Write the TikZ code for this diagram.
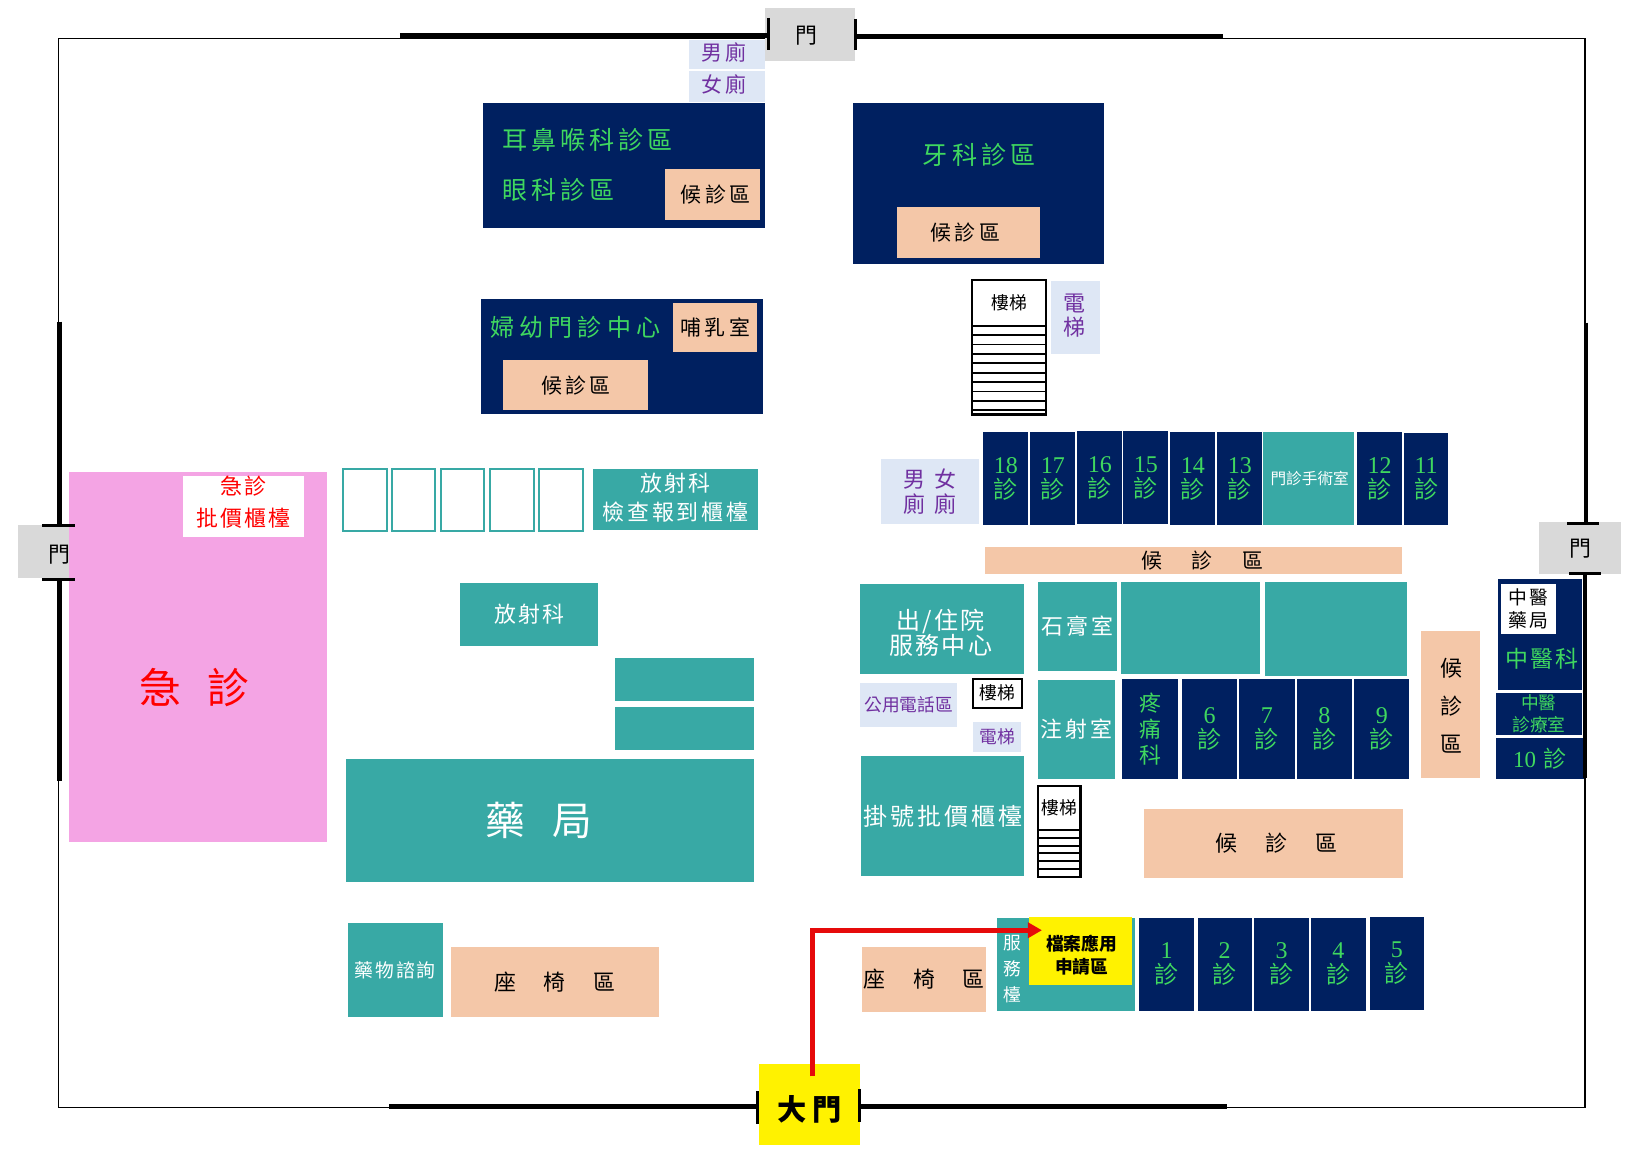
\documentclass[tikz,border=0pt]{standalone}
\usepackage{fontspec}
\setmainfont{Noto Sans CJK TC}
\newfontfamily\ltn{Liberation Serif}
\usetikzlibrary{arrows.meta}
\definecolor{navy}{HTML}{002060}
\definecolor{teal2}{HTML}{38A9A5}
\definecolor{peach}{HTML}{F4C7A8}
\definecolor{paleb}{HTML}{DEE7F5}
\definecolor{purp}{HTML}{7030A0}
\definecolor{grn}{HTML}{3FD85F}
\definecolor{pinkk}{HTML}{F4A4E4}
\definecolor{dgray}{HTML}{D9D9D9}
\makeatletter
\newcommand\LS[2]{\@tfor\@c:=#2\do{\@c\kern#1}\kern-#1\relax}
\makeatother
\newcommand\sz[2]{\fontsize{\the\dimexpr #1pt*522/1000\relax}{\the\dimexpr #2pt*522/1000\relax}\selectfont}
\newcommand\rse[2]{\raisebox{#1}[\height][\depth]{#2}}
% style, name, x0,y0,x1,y1, text
\newcommand\rbox[7]{%
  \pgfmathsetmacro\rw{(#5-#3)*0.522}\pgfmathsetmacro\rh{(#6-#4)*0.522}%
  \node[#1,anchor=north west,minimum width=\rw pt,minimum height=\rh pt] (#2) at (#3,#4) {#7};}
\tikzset{
  base/.style={inner sep=0pt,outer sep=0pt,align=center,text=black},
  navybox/.style={base,fill=navy,text=grn},
  tealbox/.style={base,fill=teal2,text=white},
  peachbox/.style={base,fill=peach},
  palebox/.style={base,fill=paleb,text=purp},
  doorbox/.style={base,fill=dgray,font=\sz{21}{24}},
  stairbox/.style={base,fill=white,draw=black,line width=1.1pt},
  outlinebox/.style={base,fill=white,draw=teal2,line width=1pt},
  clinicbox/.style={navybox,font=\sz{23}{24}},
  wall/.style={draw=black,line width=0.75pt},
  thickwall/.style={draw=black,line width=2.2pt},
  tick/.style={draw=black,line width=1.5pt},
  route/.style={draw={rgb,255:red,230;green,10;blue,10},line width=2.4pt,-{Triangle[length=7pt,width=7.5pt]}},
  tread/.style={draw=black,line width=0.9pt}
}
\begin{document}
\begin{tikzpicture}[x=0.522pt,y=-0.522pt]
\useasboundingbox (0,0) rectangle (1567,1113);
\fill[white] (0,0) rectangle (1567,1113);
% walls
\coordinate (wnw) at (56,37);
\coordinate (wse) at (1518,1061);
\draw[wall] (wnw) rectangle (wse);
\coordinate (t1) at (383,34); \coordinate (t2) at (737,34);
\coordinate (t3) at (820,35); \coordinate (t4) at (1171,35);
\coordinate (b1) at (373,1060); \coordinate (b2) at (727,1060);
\coordinate (b3) at (823,1060); \coordinate (b4) at (1175,1060);
\coordinate (l1) at (57,308); \coordinate (l2) at (57,503);
\coordinate (l3) at (57,555); \coordinate (l4) at (57,748);
\coordinate (r1) at (1519,309); \coordinate (r2) at (1519,500);
% doors
\rbox{doorbox}{dtop}{733}{8}{819}{58}{\rse{-.7pt}{門}\kern4pt}
\rbox{doorbox}{dleft}{17}{503}{96}{554}{\rse{-1.5pt}{門}}
\rbox{doorbox}{dright}{1474}{500}{1553}{550}{\rse{-.5pt}{門}}
\rbox{base,fill=yellow,font=\sz{28}{30}\bfseries}{dmain}{727}{1019}{824}{1097}{\rse{-2.5pt}{\LS{2.5pt}{大門}}}
% toilets, ENT
\rbox{palebox,font=\sz{20}{24}}{mt}{660}{38}{733}{66}{\rse{1pt}{\LS{1.5pt}{男廁}}\kern3pt}
\rbox{palebox,font=\sz{20}{24}}{ft}{660}{68}{733}{98}{\rse{1pt}{\LS{1.5pt}{女廁}}\kern3pt}
\rbox{navybox}{ent}{463}{99}{733}{218}{}
\node[base,text=grn,anchor=west,font=\sz{24}{28}] (entA) at (481,134) {\LS{2pt}{耳鼻喉科診區}};
\node[base,text=grn,anchor=west,font=\sz{24}{28}] (entB) at (481,182) {\LS{2pt}{眼科診區}};
\rbox{peachbox,font=\sz{20}{24}}{entw}{637}{162}{728}{211}{\kern3pt\LS{1.7pt}{候診區}}
% dental
\rbox{navybox}{den}{817}{99}{1057}{253}{}
\node[base,text=grn,font=\sz{24}{28}] (denA) at (938,148) {\LS{2.2pt}{牙科診區}};
\rbox{peachbox,font=\sz{20}{24}}{denw}{859}{198}{996}{247}{\LS{1.7pt}{候診區}\kern3pt}
% upper stair
\rbox{stairbox}{st1}{931}{268}{1002}{397}{}
\node[base,font=\sz{17}{20}] (st1t) at (967,290) {樓梯};
\foreach \y in {312,321,330,339,348,357,366,375,384,393}
  \draw[tread] (st1.west |- 0,\y) -- (st1.east |- 0,\y);
\rbox{palebox}{el1}{1007}{269}{1054}{339}{}
\node[base,text=purp,font=\sz{21}{23}] (el1T) at (1029,302) {電\\梯};
% OB
\rbox{navybox}{ob}{461}{286}{731}{397}{}
\node[base,text=grn,font=\sz{23}{28}] (obA) at (551,314) {\LS{2.6pt}{婦幼門診中心}};
\rbox{peachbox,font=\sz{20}{24}}{nurs}{645}{290}{725}{337}{\LS{1.7pt}{哺乳室}}
\rbox{peachbox,font=\sz{20}{24}}{obw}{482}{345}{621}{393}{\LS{1.7pt}{候診區}}
% radiology
\rbox{outlinebox}{ro1}{329}{449}{371}{509}{}
\rbox{outlinebox}{ro2}{375}{449}{417}{509}{}
\rbox{outlinebox}{ro3}{422}{449}{464}{509}{}
\rbox{outlinebox}{ro4}{469}{449}{511}{509}{}
\rbox{outlinebox}{ro5}{516}{449}{558}{509}{}
\rbox{tealbox}{radc}{568}{449}{726}{508}{}
\node[base,text=white,font=\sz{21}{28}] (radcT) at (647,477) {\LS{1pt}{放射科}\\\LS{1.4pt}{檢查報到櫃檯}};
% ER
\rbox{base,fill=pinkk}{er}{66}{452}{313}{806}{}
\node[base,text=red,font=\sz{40}{46}] (erT) at (186,659) {\LS{13pt}{急診}};
\rbox{base,fill=white}{erc}{175}{456}{291}{514}{}
\node[base,text=red,font=\sz{21}{31}] (ercT) at (233,481) {\LS{1pt}{急診}\\\LS{1pt}{批價櫃檯}};
% left middle
\rbox{tealbox,font=\sz{21}{24}}{rad}{441}{558}{573}{619}{\LS{1pt}{放射科}}
\rbox{tealbox}{t1b}{589}{630}{722}{671}{}
\rbox{tealbox}{t2b}{589}{677}{722}{718}{}
\rbox{tealbox,font=\sz{38}{44}}{ph}{331}{727}{722}{845}{\LS{14pt}{藥局}\kern11pt}
\rbox{tealbox,font=\sz{18}{22}}{phq}{333}{884}{424}{974}{\LS{1pt}{藥物諮詢}}
\rbox{peachbox,font=\sz{21}{24}}{seatL}{432}{907}{631}{974}{\LS{14pt}{座椅區}}
% toilets right
\rbox{palebox,font=\sz{21}{24}}{tw}{844}{440}{938}{502}{\LS{4.5pt}{男女}\\\LS{4.5pt}{廁廁}}
% upper clinics
\rbox{clinicbox}{c18}{942}{414}{985}{503}{{\ltn 18}\\診}
\rbox{clinicbox}{c17}{987}{414}{1030}{503}{{\ltn 17}\\診}
\rbox{clinicbox}{c16}{1032}{413}{1075}{502}{{\ltn 16}\\診}
\rbox{clinicbox}{c15}{1076}{413}{1119}{502}{{\ltn 15}\\診}
\rbox{clinicbox}{c14}{1121}{414}{1164}{503}{{\ltn 14}\\診}
\rbox{clinicbox}{c13}{1166}{414}{1209}{503}{{\ltn 13}\\診}
\rbox{tealbox,font=\sz{15}{18}}{sur}{1210}{414}{1297}{503}{\kern1pt 門診手術室}
\rbox{clinicbox}{c12}{1300}{414}{1343}{503}{{\ltn 12}\\診}
\rbox{clinicbox}{c11}{1345}{415}{1387}{503}{{\ltn 11}\\診}
\rbox{peachbox,font=\sz{20}{24}}{wait1}{943}{524}{1343}{550}{\kern9pt\LS{15pt}{候診區}}
% service
\rbox{tealbox}{svc}{824}{559}{981}{646}{}
\node[base,text=white,font=\sz{23}{24}] (svcT) at (901,606) {\LS{1pt}{出/住院}\\\LS{1.2pt}{服務中心}};
\rbox{tealbox,font=\sz{21}{24}}{cast}{994}{557}{1070}{643}{\LS{1.5pt}{石膏室}}
\rbox{tealbox}{t3b}{1074}{557}{1207}{646}{}
\rbox{tealbox}{t4b}{1212}{557}{1348}{647}{}
\rbox{palebox,font=\sz{17}{20}}{phone}{824}{654}{917}{696}{公用電話區}
\rbox{stairbox,font=\sz{17}{20}}{st2}{932}{650}{979}{678}{樓梯}
\rbox{palebox,font=\sz{17}{20}}{el2}{932}{692}{978}{720}{電梯}
\rbox{tealbox,font=\sz{21}{24}}{inj}{994}{651}{1068}{746}{\LS{1.5pt}{注射室}}
\rbox{navybox,font=\sz{21}{25}}{pain}{1075}{650}{1128}{746}{疼\\痛\\科}
\rbox{clinicbox}{c6}{1132}{650}{1185}{746}{{\ltn 6}\\診}
\rbox{clinicbox}{c7}{1187}{650}{1240}{746}{{\ltn 7}\\診}
\rbox{clinicbox}{c8}{1242}{650}{1295}{746}{{\ltn 8}\\診}
\rbox{clinicbox}{c9}{1297}{650}{1350}{746}{{\ltn 9}\\診}
\rbox{tealbox,font=\sz{23}{26}}{reg}{825}{724}{981}{839}{\LS{1.5pt}{掛號批價櫃檯}}
\rbox{stairbox}{st3}{994}{753}{1035}{840}{}
\node[base,font=\sz{17}{20}] (st3t) at (1015,774) {樓梯};
\foreach \y in {795,803,810,817,825,832}
  \draw[tread] (st3.west |- 0,\y) -- (st3.east |- 0,\y);
\rbox{peachbox,font=\sz{21}{24}}{wait2}{1096}{775}{1344}{841}{\kern3pt\LS{14pt}{候診區}}
\rbox{peachbox}{wait3}{1361}{604}{1418}{745}{}
\node[base,font=\sz{21}{36}] (wait3T) at (1390,676) {候\\診\\區};
% TCM
\rbox{navybox}{tcm}{1435}{555}{1515}{661}{}
\node[base,text=grn,font=\sz{22}{26}] (tcmT) at (1477,631) {\LS{1pt}{中醫科}};
\rbox{base,fill=white,font=\sz{18}{22}}{tcmp}{1438}{559}{1490}{607}{\LS{1pt}{中醫}\\\LS{1pt}{藥局}}
\rbox{navybox,font=\sz{17}{21}}{tcmr}{1433}{664}{1515}{704}{中醫\\診療室}
\rbox{navybox,font=\sz{22}{24}}{c10}{1433}{707}{1517}{746}{{\ltn 10}\,\,診}
% bottom
\rbox{peachbox,font=\sz{21}{24}}{seatR}{826}{907}{944}{969}{\LS{14pt}{座椅區}}
\rbox{tealbox}{desk}{955}{879}{1087}{968}{}
\node[base,text=white,font=\sz{17}{25}] (deskT) at (970,928) {服\\務\\檯};
\rbox{base,fill=yellow}{file}{986}{878}{1084}{943}{}
\node[base,font=\sz{17}{22}\bfseries] (fileT) at (1036,915) {檔案應用\\申請區};
\rbox{clinicbox}{c1}{1091}{879}{1144}{968}{{\ltn 1}\\診}
\rbox{clinicbox}{c2}{1147}{879}{1199}{968}{{\ltn 2}\\診}
\rbox{clinicbox}{c3}{1201}{879}{1254}{968}{{\ltn 3}\\診}
\rbox{clinicbox}{c4}{1256}{879}{1308}{968}{{\ltn 4}\\診}
\rbox{clinicbox}{c5}{1312}{878}{1364}{967}{{\ltn 5}\\診}
% thick walls and door ticks (above the rooms)
\draw[thickwall] (t1) -- (t2);
\draw[thickwall] (t3) -- (t4);
\draw[thickwall] (b1) -- (b2);
\draw[thickwall] (b3) -- (b4);
\draw[thickwall] (l1) -- (l2);
\draw[thickwall] (l3) -- (l4);
\draw[thickwall] (r1) -- (r2);
\draw[thickwall] (1518,550) -- (1518,745);
\draw[tick] (736,17) -- (736,48);
\draw[tick] (819,18) -- (819,48);
\draw[tick] (726,1045) -- (726,1077);
\draw[tick] (823,1043) -- (823,1075);
\draw[tick] (40,503) -- (72,503);
\draw[tick] (40,555) -- (72,555);
\draw[tick] (1501,501) -- (1532,501);
\draw[tick] (1503,549) -- (1533,549);
% route
\coordinate (rs) at (778,1031);
\coordinate (rc) at (778,891);
\coordinate (re) at (998,891);
\draw[route] (rs) -- (rc) -- (re);
\end{tikzpicture}
\end{document}
